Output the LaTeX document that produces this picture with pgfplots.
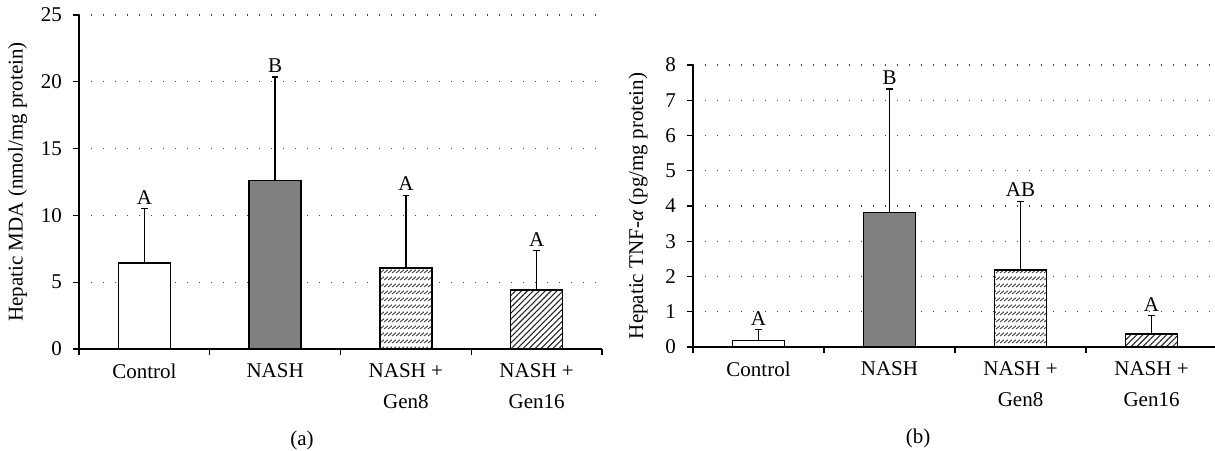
\documentclass[border=0pt]{standalone}
\usepackage{fontspec}
\setmainfont{Liberation Serif}
\usepackage{pgfplots}
\pgfplotsset{compat=1.18}
\usetikzlibrary{patterns,patterns.meta}

\newcommand{\fs}{\fontsize{10.5}{15.5}\selectfont}

% rows of short slanted strokes (Gen8 bars)
\pgfdeclarepatternformonly{rowhatch}{\pgfpoint{-0.1pt}{-0.1pt}}{\pgfpoint{2.1pt}{3.6pt}}{\pgfpoint{2pt}{3.5pt}}{%
  \pgfsetlinewidth{0.4pt}%
  \pgfpathmoveto{\pgfpoint{0pt}{1pt}}%
  \pgfpathlineto{\pgfpoint{2pt}{2.6pt}}%
  \pgfusepath{stroke}}

\pgfplotsset{
  panel/.style={
    scale only axis, anchor=south west,
    axis x line=bottom, axis y line=left,
    axis line style={-, line width=0.6pt},
    xmin=-0.5, xmax=3.5,
    xtick={-0.5,0.5,1.5,2.5,3.5}, xticklabels={},
    extra x ticks={0,1,2,3},
    extra x tick labels={{Control\\\mbox{}},NASH\\\mbox{},{NASH +\\Gen8},{NASH +\\Gen16}},
    extra x tick style={major tick length=0pt},
    x tick label style={align=center, font=\fs, anchor=north, yshift=-4pt},
    tick align=outside, major tick length=3pt,
    tick style={black, line width=0.6pt},
    ymin=0,
    ymajorgrids,
    grid style={black!75, line width=0.6pt, dash pattern=on 0.6pt off 5.4pt},
    y tick label style={font=\fs, xshift=-2pt},
    ylabel style={font=\fs},
    /pgf/number format/assume math mode=true,
    clip=false,
  },
  bar/.style={ybar, bar width=26pt, bar shift=0pt, draw=black, line width=0.7pt,
    error bars/y dir=plus, error bars/y explicit, error bars/error mark=-,
    error bars/error bar style={line width=0.7pt},
    error bars/error mark options={rotate=90, line width=0.7pt, mark size=1.6pt}},
  letters/.style={draw=none, mark=none, nodes near coords, point meta=explicit symbolic,
    nodes near coords style={font=\fs, anchor=south, inner sep=2pt}},
}

\begin{document}
\begin{tikzpicture}
\path[use as bounding box] (0,0) rectangle (607.5pt,225pt);

\begin{axis}[panel, at={(39.5pt,50.5pt)}, width=261.5pt, height=167pt,
  ymax=25, ytick={0,5,...,25},
  ylabel={Hepatic MDA (nmol/mg protein)}]
\addplot[fill=white, bar] coordinates {(0,6.45) +- (0,4.05)};
\addplot[fill=black!50, bar] coordinates {(1,12.63) +- (0,7.72)};
\addplot[preaction={fill=white}, pattern=rowhatch, pattern color=black!80, bar] coordinates {(2,6.05) +- (0,5.45)};
\addplot[preaction={fill=white}, pattern={Lines[angle=45,distance=2.1pt,line width=0.55pt]}, pattern color=black!85, bar] coordinates {(3,4.43) +- (0,2.95)};
\addplot[letters] coordinates {(0,10.5)[A] (1,20.35)[B] (2,11.5)[A] (3,7.38)[A]};
\end{axis}

\begin{axis}[panel, at={(346.5pt,51.5pt)}, width=262pt, height=141pt,
  ymax=8, ytick={0,1,...,8},
  ylabel shift=2pt,
  ylabel={Hepatic TNF-\textit{α} (pg/mg protein)}]
\addplot[fill=white, bar] coordinates {(0,0.19) +- (0,0.30)};
\addplot[fill=black!50, bar] coordinates {(1,3.82) +- (0,3.50)};
\addplot[preaction={fill=white}, pattern=rowhatch, pattern color=black!80, bar] coordinates {(2,2.18) +- (0,1.95)};
\addplot[preaction={fill=white}, pattern={Lines[angle=45,distance=2.1pt,line width=0.55pt]}, pattern color=black!85, bar] coordinates {(3,0.37) +- (0,0.52)};
\addplot[letters] coordinates {(0,0.49)[A] (1,7.32)[B] (2,4.13)[AB] (3,0.89)[A]};
\end{axis}

\node[font=\fs] at (151pt,5pt) {(a)};
\node[font=\fs] at (459pt,6pt) {(b)};
\end{tikzpicture}
\end{document}
